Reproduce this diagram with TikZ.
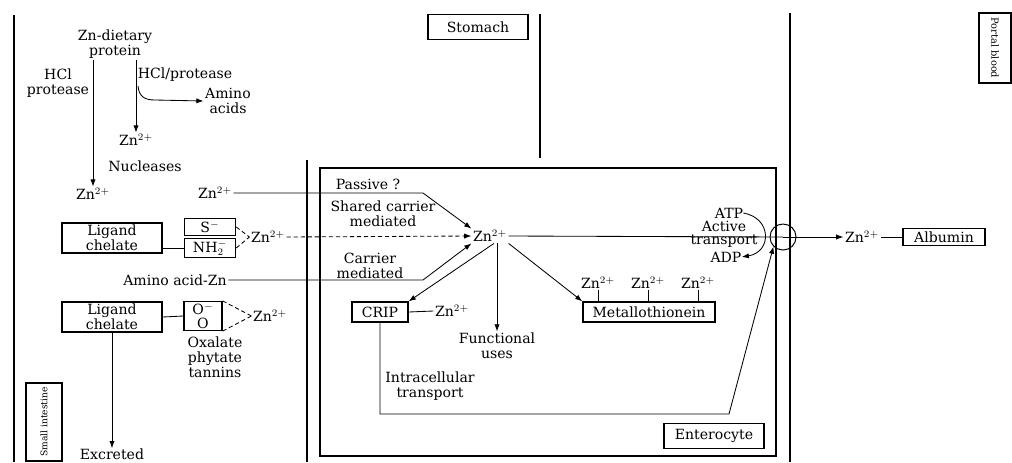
\documentclass[tikz,border=0pt]{standalone}
\usepackage{fontspec}
\setmainfont{DejaVu Serif}
\usetikzlibrary{arrows.meta,positioning,calc}
\begin{document}
\begin{tikzpicture}[x=0.025cm, y=-0.025cm, font=\fontsize{10}{10.5}\selectfont,
    wall/.style={line width=1.4pt},
    box/.style={draw, line width=0.9pt, inner sep=1pt, align=center},
    lbl/.style={align=center, inner sep=1pt},
    tag/.style={draw, line width=0.9pt, inner sep=1pt, font=\fontsize{7}{7}\selectfont},
    arr/.style={-{Latex[length=1.8mm,width=1.3mm]}, line width=0.6pt},
    lnk/.style={line width=0.6pt},
    dsh/.style={line width=0.6pt, densely dashed}]
  \useasboundingbox (0,0) rectangle (1012,462);
  \draw[wall] (14,15) -- (14,462);
  \draw[wall] (540,14) -- (540,158);
  \draw[wall] (307,160) -- (307,462);
  \draw[wall] (790,13) -- (790,462);
  \draw[line width=1.1pt] (320,168) rectangle (776,456);
  \node[box, minimum width=2.5cm, minimum height=0.62cm] (stom) at (478,27) {Stomach};
  \node[tag, rotate=-90, minimum width=1.75cm, minimum height=0.8cm] (portal) at (995,48) {Portal blood};
  \node[tag, rotate=90, minimum width=1.95cm, minimum height=0.9cm, font=\fontsize{6.5}{6.5}\selectfont] (small) at (44,422) {Small intestine};
  \node[box, minimum width=2.5cm, minimum height=0.62cm] (entero) at (714,436) {Enterocyte};
  \node[lbl] (diet) at (115,44) {Zn-dietary\\protein};
  \node[lbl] (znA) at (136,140) {Zn$^{2+}$};
  \node[lbl] (znB) at (93,194) {Zn$^{2+}$};
  \node[lbl] (amino) at (228,101) {Amino\\acids};
  \node[lbl] (hclL) at (58,83) {HCl\\protease};
  \node[lbl] (hclR) at (185,75) {HCl/protease};
  \node[lbl] (nucl) at (145,166) {Nucleases};
  \coordinate (fork) at (138,86);
  \draw[arr] (znB |- diet.south) -- (znB.north);
  \draw[arr] (znA |- diet.south) -- (znA.north);
  \draw[arr] (fork) .. controls (139,97) and (145,100) .. (155,100) -- (amino.west);
  \node[box, minimum width=2.5cm, minimum height=0.75cm] (lig1) at (112,238) {Ligand\\chelate};
  \node[box, minimum width=1.28cm, minimum height=0.42cm] (sneg) at (210,227) {S$^-$};
  \node[box, minimum width=1.28cm, minimum height=0.42cm] (nh) at (210,248) {NH$_2^-$};
  \node[lbl] (znC) at (268,237) {Zn$^{2+}$};
  \draw[lnk] (lig1.east |- nh.west) -- (nh.west);
  \draw[dsh] (sneg.east) -- (znC.west);
  \draw[dsh] (nh.east) -- (znC.west);
  \node[box, minimum width=2.5cm, minimum height=0.75cm] (lig2) at (112,317) {Ligand\\chelate};
  \node[box, minimum width=0.95cm, minimum height=0.7cm] (obox) at (203,316) {O$^-$\\O};
  \node[lbl] (znO) at (270,316) {Zn$^{2+}$};
  \node[lbl] (oxal) at (215,357) {Oxalate\\phytate\\tannins};
  \node[lbl, inner sep=0pt] (excr) at (112,454) {Excreted};
  \draw[lnk] (lig2.east) -- (obox.west);
  \draw[dsh] (obox.north east) -- (znO.west);
  \draw[dsh] (obox.south east) -- (znO.west);
  \draw[arr] (lig2.south) -- (excr.north);
  \node[lbl] (zn) at (490,236) {Zn$^{2+}$};
  \node[lbl] (znP) at (215,193) {Zn$^{2+}$};
  \node[lbl] (aaz) at (175,280) {Amino acid-Zn};
  \node[lbl] (pass) at (368,184) {Passive ?};
  \node[lbl] (shrd) at (383,214) {Shared carrier\\mediated};
  \node[lbl] (carr) at (370,266) {Carrier\\mediated};
  \coordinate (pbend) at (423,193);
  \coordinate (cbend) at (423,280);
  \draw[arr] (znP.east) -- (pbend) -- (zn.north west);
  \draw[arr, densely dashed] (znC.east) -- (zn.west);
  \draw[arr] (aaz.east) -- (cbend) -- (zn.south west);
  \node[box, minimum width=1.4cm, minimum height=0.5cm] (crip) at (380,312) {CRIP};
  \node[lbl] (znQ) at (452,311) {Zn$^{2+}$};
  \draw[arr] ([xshift=0.1cm]zn.south) -- (crip.north east);
  \draw[lnk] (crip.east) -- (znQ.west);
  \node[lbl] (fu) at (497,346) {Functional\\uses};
  \draw[arr] (fu.north |- zn.south) -- (fu.north);
  \node[box, minimum width=3.3cm, minimum height=0.5cm] (mt) at (649,312) {Metallothionein};
  \draw[arr] (zn.south east) -- (mt.north west);
  \foreach \i/\x in {1/598, 2/648, 3/698}{
    \node[lbl] (zm\i) at (\x,283) {Zn$^{2+}$};
    \draw[lnk] (zm\i.south) -- (zm\i.south |- mt.north);
  }
  \node[lbl] (intra) at (430,386) {Intracellular\\transport};
  \node[draw, circle, line width=0.7pt, minimum size=0.65cm] (pump) at (783,237) {};
  \coordinate (loopR) at (729,414);
  \draw[arr] (crip.south) -- (crip.south |- loopR) -- (loopR) -- (pump.south west);
  \node[lbl, inner sep=0pt] (atp) at (729,213) {ATP};
  \node[lbl, inner sep=0pt, font=\fontsize{10}{9.5}\selectfont] (act) at (724,234) {Active\\transport};
  \node[lbl, inner sep=0pt] (adp) at (726,257) {ADP};
  \draw[arr] (atp.east) .. controls (772,218) and (772,252) .. (adp.east);
  \node[lbl] (znR) at (862,237) {Zn$^{2+}$};
  \node[box, minimum width=2.05cm, minimum height=0.42cm] (alb) at (944,237) {Albumin};
  \draw[lnk] (zn.east) -- (pump.center);
  \draw[arr] (pump.center) -- (znR.west);
  \draw[lnk] (znR.east) -- (alb.west);
\end{tikzpicture}
\end{document}
